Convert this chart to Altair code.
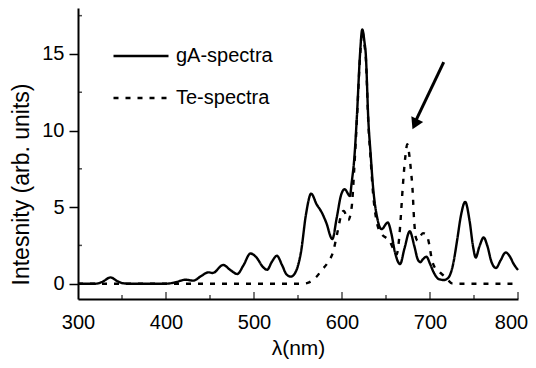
import altair as alt
import pandas as pd

# ---- data ----
ga_x = [300, 320, 327, 337, 345, 352, 360, 400, 410, 422, 431, 440, 448, 453, 465, 473, 481, 488,
        496, 503, 510, 515, 520, 526, 532, 537, 542, 548, 553.5, 559, 565, 571, 577, 582, 589, 594,
        599, 603, 609, 611, 614, 617, 620.5, 623, 625.5, 627, 630, 632.5, 635, 640, 645, 652, 656,
        660, 666, 671, 677, 682, 686, 689, 692, 696, 700, 705, 710, 716, 721, 726, 731, 735, 740,
        745, 749, 752, 756, 761, 765, 770, 775, 780, 786, 791, 795, 800]
ga_y = [0, 0, 0.1, 0.41, 0.15, 0.02, 0, 0, 0.08, 0.26, 0.2, 0.5, 0.74, 0.7, 1.22, 0.9, 0.63, 1.2,
        1.97, 1.7, 1.1, 0.91, 1.4, 1.82, 1.2, 0.6, 0.46, 0.85, 2.1, 4.5, 5.88, 5.2, 4.65, 4.0, 2.91, 4.3,
        5.8, 6.17, 5.73, 6.6, 8.2, 11.0, 15.0, 16.6, 15.8, 15.0, 10.6, 8.5, 6.5, 4.3, 3.56, 4.0, 3.3,
        2.1, 1.28, 2.3, 3.42, 2.5, 1.6, 1.4, 1.6, 1.76, 1.3, 0.65, 0.3, 0.24, 0.4, 1.2, 2.9, 4.4, 5.34,
        4.1, 2.4, 1.71, 2.4, 3.02, 2.5, 1.4, 1.02, 1.5, 2.04, 1.75, 1.3, 0.9]

te_x = [300, 555, 561, 566, 571, 577, 584, 590, 595, 600, 602, 607, 611, 614, 617, 620.5, 623,
        625.5, 627, 630, 632.5, 635, 640, 645, 650, 654, 658, 662, 665, 666.5, 669, 672, 674.2,
        676.5, 678.5, 680, 682, 684, 686, 689, 692, 696, 699, 702, 705, 709, 713, 717, 721, 725,
        730, 800]
te_y = [0, 0, 0.05, 0.2, 0.45, 0.89, 1.39, 2.1, 3.4, 4.65, 4.75, 4.15, 5.0, 7.6, 10.8, 14.8, 16.5,
        15.6, 14.8, 10.4, 8.2, 6.1, 3.9, 3.25, 3.0, 2.8, 2.3, 1.9, 3.0, 4.1, 6.27, 8.3, 9.1,
        8.4, 7.3, 6.3, 4.1, 3.0, 2.8, 3.1, 3.3, 3.2, 2.6, 1.6, 1.1, 0.85, 0.65, 0.45, 0.2, 0.02,
        0, 0]

series_names = ["gA-spectra", "Te-spectra"]

x_labels = [300, 400, 500, 600, 700, 800]
x_major = [400, 500, 600, 700, 800]
x_minor = [350, 450, 550, 650, 750]
y_major = [0, 5, 10, 15]
y_minor = [2.5, 7.5, 12.5, 17.5]

arrow_x = [715.6, 683.5]
arrow_y = [14.46, 10.6]
head_x = [682.8]
head_y = [10.41]

X_MIN, Y_MIN = 300, -1

# ---- build tables ----
rows = []
for i, (a, b) in enumerate(zip(ga_x, ga_y)):
    rows.append({"x": a, "y": b, "series": series_names[0], "i": i})
for i, (a, b) in enumerate(zip(te_x, te_y)):
    rows.append({"x": a, "y": b, "series": series_names[1], "i": i})
spec = pd.DataFrame(rows)

FONT = "Liberation Sans"
xscale = alt.Scale(domain=[300, 800], nice=False, zero=False)
yscale = alt.Scale(domain=[-1, 18], nice=False, zero=False)

xaxis = alt.Axis(values=x_labels, ticks=False, grid=False, domainColor="black",
                 domainWidth=2, labelFontSize=20, labelColor="black", labelPadding=13,
                 labelFont=FONT, format="d", labelFlush=False,
                 labelOffset={"condition": {"test": "datum.value == 800", "value": -7}, "value": 0},
                 title="λ(nm)", titleFontSize=21, titleFontWeight="normal",
                 titleColor="black", titleFont=FONT, titlePadding=5)
yaxis = alt.Axis(values=y_major, tickSize=9, tickWidth=1.5, tickColor="black", grid=False,
                 domainColor="black", domainWidth=2, labelFontSize=20, labelColor="black",
                 labelPadding=5, labelFont=FONT, labelFlush=False,
                 title="Intesnity (arb. units)", titleFontSize=23, titleFontWeight="normal",
                 titleColor="black", titleFont=FONT, titleX=-45, titleY=176)


def X():
    return alt.X("x:Q", scale=xscale, axis=xaxis, title="λ(nm)")


def Y():
    return alt.Y("y:Q", scale=yscale, axis=yaxis, title="Intesnity (arb. units)")


lines = alt.Chart(spec).mark_line(interpolate="monotone", strokeWidth=2.4, color="black").encode(
    x=X(), y=Y(),
    strokeDash=alt.StrokeDash("series:N",
                              scale=alt.Scale(domain=series_names, range=[[1, 0], [5, 7]]),
                              legend=alt.Legend(title=None, orient="none", legendX=34, legendY=19,
                                                symbolType="stroke", symbolSize=3025,
                                                symbolStrokeWidth=2.4, symbolStrokeColor="black",
                                                labelFontSize=20, labelFont=FONT, labelColor="black",
                                                rowPadding=3, labelOffset=6, padding=0)),
    order=alt.Order("i:Q"),
)

xmaj = alt.Chart(pd.DataFrame({"x": x_major, "y": [Y_MIN] * len(x_major)})).mark_tick(
    orient="vertical", size=7, thickness=1.5, color="black", yOffset=-3.5).encode(x=X(), y=Y())
xmin = alt.Chart(pd.DataFrame({"x": x_minor, "y": [Y_MIN] * len(x_minor)})).mark_tick(
    orient="vertical", size=4, thickness=1.5, color="black", yOffset=-2).encode(x=X(), y=Y())
ymin = alt.Chart(pd.DataFrame({"y": y_minor, "x": [X_MIN] * len(y_minor)})).mark_tick(
    orient="horizontal", size=4, thickness=1.5, color="black", xOffset=2).encode(x=X(), y=Y())

shaft = alt.Chart(pd.DataFrame({"x": arrow_x, "y": arrow_y})).mark_line(
    color="black", strokeWidth=3).encode(x=X(), y=Y())
head = alt.Chart(pd.DataFrame({"x": head_x, "y": head_y})).mark_point(
    shape="triangle-up", size=170, filled=True, color="black", opacity=1, angle=205).encode(
    x=X(), y=Y())

chart = alt.layer(lines, xmaj, xmin, ymin, shaft, head).properties(
    width=440, height=291,
    autosize=alt.AutoSizeParams(type="none"),
    padding={"left": 70, "top": 0, "right": 10, "bottom": 61},
    background="white",
).configure(font=FONT).configure_view(stroke=None)

chart.save("out.html", embed_options={"renderer": "svg", "actions": False})
